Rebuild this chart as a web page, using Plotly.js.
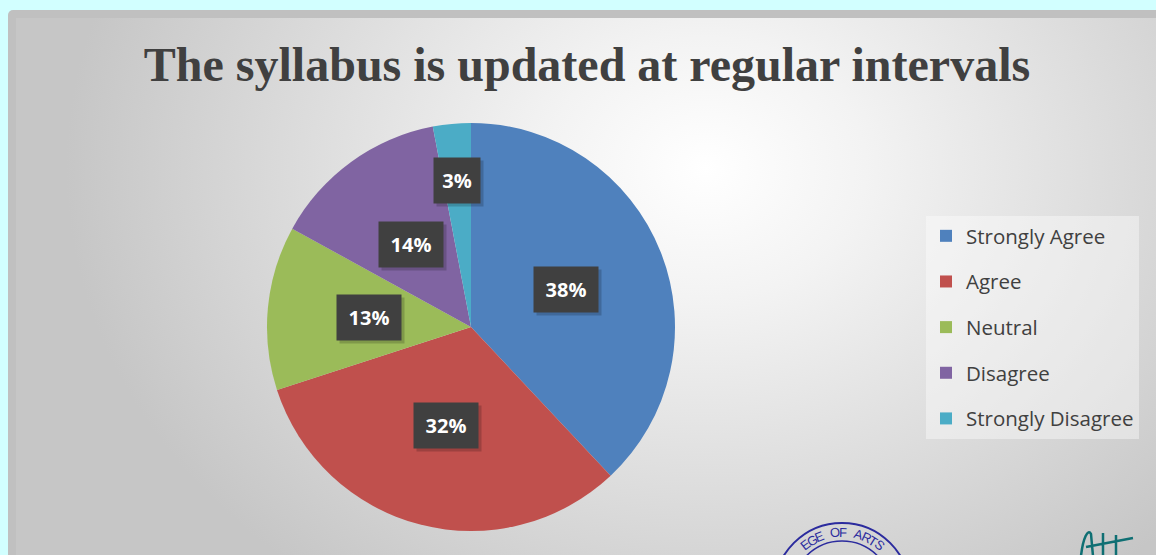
<!DOCTYPE html>
<html>
<head>
<meta charset="utf-8">
<script src="https://cdn.plot.ly/plotly-3.0.1.min.js"></script>
<style>
  html, body { margin: 0; padding: 0; background: #d2ffff; width: 1156px; height: 555px; overflow: hidden; }
  #frame { position: absolute; left: 8px; top: 10px; width: 1160px; height: 560px;
           background: #c0c0c0; border-radius: 5px 0 0 0; }
  #inner { position: absolute; left: 16px; top: 18px; width: 1140px; height: 537px;
           background: radial-gradient(ellipse 640px 520px at 690px 150px, #ffffff 0%, #f3f3f3 25%, #dedede 60%, #c6c6c6 100%); }
  #chart { position: absolute; left: 0; top: 0; width: 1156px; height: 555px; }
</style>
</head>
<body>
<div id="frame"></div>
<div id="inner"></div>
<div id="chart"></div>
<script>
const categories = ["Strongly Agree", "Agree", "Neutral", "Disagree", "Strongly Disagree"];
const percentages = [38, 32, 13, 14, 3];
const percentLabels = ["38%", "32%", "13%", "14%", "3%"];
const sliceColors = ["#4f81bd", "#c0504d", "#9bbb59", "#8064a2", "#4bacc6"];
const chartTitle = "The syllabus is updated at regular intervals";

const W = 1156, H = 555;
const CX = 471, CY = 327, R = 204;

const pie = {
  type: "pie",
  values: percentages,
  labels: categories,
  sort: false,
  direction: "clockwise",
  rotation: 0,
  textinfo: "none",
  hoverinfo: "label+percent",
  marker: { colors: sliceColors, line: { width: 0 } },
  domain: { x: [(CX - R) / W, (CX + R) / W], y: [1 - (CY + R) / H, 1 - (CY - R) / H] },
  showlegend: false
};

// legend entries (one per category)
const legendTraces = categories.map((c, i) => ({
  type: "scatter", mode: "markers", x: [null], y: [null], name: c,
  legendgroup: "g" + i, showlegend: true, hoverinfo: "skip",
  marker: { symbol: "square", size: 14, color: sliceColors[i] }
}));

// data-label boxes at slice mid-angles
const total = percentages.reduce((a, b) => a + b, 0);
const annotations = [];
const labelBoxes = [];
let cum = 0;
percentages.forEach((v, i) => {
  const mid = (cum + v / 2) / total * 2 * Math.PI;
  cum += v;
  const f = v / total < 0.05 ? 0.72 : 0.5;
  const px = CX + f * R * Math.sin(mid);
  const py = CY - f * R * Math.cos(mid);
  const w = percentLabels[i].length > 2 ? 62 : 44;
  labelBoxes.push({ x: px / W, y: 1 - py / H, w: w });
});
labelBoxes.forEach(b => annotations.push({
  xref: "paper", yref: "paper", x: b.x, y: b.y, xanchor: "center", yanchor: "middle",
  xshift: 3, yshift: -3, text: " ", showarrow: false, width: b.w, height: 43,
  bgcolor: "rgba(0,0,0,0.18)"
}));
labelBoxes.forEach((b, i) => annotations.push({
  xref: "paper", yref: "paper", x: b.x, y: b.y, xanchor: "center", yanchor: "middle",
  text: "<b>" + percentLabels[i] + "</b>", showarrow: false, width: b.w, height: 43,
  bgcolor: "#404040", font: { family: "Open Sans", size: 20, color: "#ffffff" }
}));

// seal lettering (decorative stamp at bottom)
const sealText = "EGE OF ARTS";
const SX = 842, SY = 591, SR = 59;
for (let k = 0; k < sealText.length; k++) {
  const a = (-38 + k * 7.8) * Math.PI / 180;
  if (sealText[k] === " ") continue;
  annotations.push({
    xref: "paper", yref: "paper",
    x: (SX + SR * Math.sin(a)) / W, y: 1 - (SY - SR * Math.cos(a)) / H,
    xanchor: "center", yanchor: "middle", showarrow: false,
    text: sealText[k], textangle: a * 180 / Math.PI,
    font: { family: "Liberation Sans", size: 13, color: "#2b2b9e" }
  });
}
const P = (x, y) => (x / W).toFixed(5) + "," + (1 - y / H).toFixed(5);
const shapes = [
  { type: "circle", xref: "paper", yref: "paper",
    x0: (SX - 68) / W, x1: (SX + 68) / W, y0: 1 - (SY + 68) / H, y1: 1 - (SY - 68) / H,
    line: { color: "#2b2b9e", width: 2 } },
  { type: "circle", xref: "paper", yref: "paper",
    x0: (SX - 50) / W, x1: (SX + 50) / W, y0: 1 - (SY + 50) / H, y1: 1 - (SY - 50) / H,
    line: { color: "#2b2b9e", width: 1.5 } },
  { type: "path", xref: "paper", yref: "paper",
    path: "M" + P(1081, 556) + " C" + P(1083, 538) + " " + P(1088, 528) + " " + P(1091, 534) +
          " L" + P(1093, 556) + " M" + P(1086, 547) + " L" + P(1133, 538) +
          " M" + P(1103, 533) + " L" + P(1103, 556) + " M" + P(1116, 535) + " L" + P(1116, 556),
    line: { color: "#0f6f73", width: 2.5 } }
];

const layout = {
  width: W, height: H,
  margin: { l: 0, r: 0, t: 0, b: 0 },
  paper_bgcolor: "rgba(0,0,0,0)",
  plot_bgcolor: "rgba(0,0,0,0)",
  title: {
    text: "<b>" + chartTitle + "</b>",
    x: 587 / W, xanchor: "center", xref: "paper",
    y: 1 - 64 / H, yanchor: "middle", yref: "container",
    font: { family: "Liberation Serif", size: 48, color: "#404040" }
  },
  xaxis: { visible: false, domain: [0.9, 0.95] },
  yaxis: { visible: false, domain: [0.9, 0.95] },
  showlegend: true,
  legend: {
    x: 926 / W, y: 1 - 216 / H, xanchor: "left", yanchor: "top",
    bgcolor: "rgba(255,255,255,0.4)",
    font: { family: "Open Sans", size: 20.5, color: "#404040" },
    tracegroupgap: 16, itemsizing: "constant"
  },
  annotations: annotations,
  shapes: shapes
};

Plotly.newPlot("chart", [pie].concat(legendTraces), layout, { displayModeBar: false, staticPlot: true });
</script>
</body>
</html>
